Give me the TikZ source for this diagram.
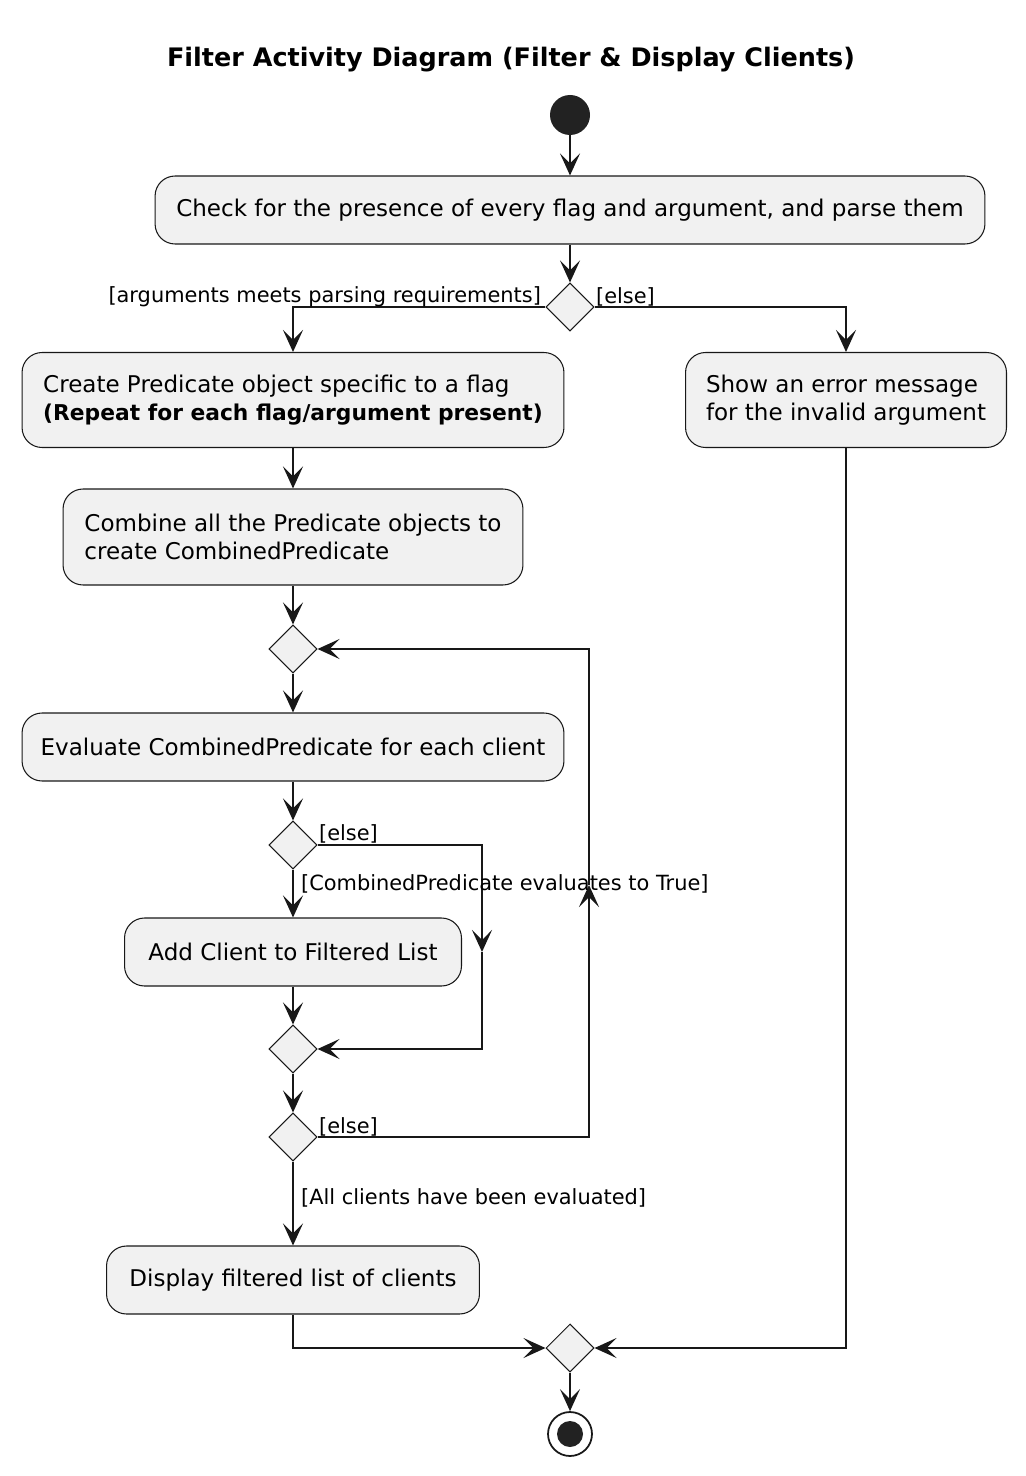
\documentclass[tikz,border=0pt]{standalone}
\usepackage{fontspec}
\setmainfont{DejaVu Sans}
\usetikzlibrary{positioning,shapes.geometric,arrows.meta,calc}
\definecolor{boxfill}{HTML}{F1F1F1}
\definecolor{ink}{HTML}{181818}
\definecolor{dot}{HTML}{222222}

\begin{document}
\begin{tikzpicture}[x=0.02cm,y=-0.02cm,
	act/.style={draw=ink,fill=boxfill,rounded corners=0.4cm,line width=0.6pt,minimum height=1.36cm,inner xsep=0.3cm,font=\fontsize{13.1}{15.9}\selectfont},
	actml/.style={act,align=left,minimum height=1.9cm},
	choice/.style={diamond,draw=ink,fill=boxfill,line width=0.6pt,inner sep=0pt,minimum width=0.96cm,minimum height=0.96cm},
	flow/.style={draw=ink,line width=1pt,-{Stealth[length=0.44cm,width=0.4cm,inset=0.2cm]}},
	guard/.style={font=\fontsize{11.9}{14}\selectfont,inner sep=1pt}]
			\useasboundingbox (0,0) rectangle (1026,1476);
			\node[font=\bfseries\fontsize{14.5}{17}\selectfont] (title) at (511,60) {Filter Activity Diagram (Filter \& Display Clients)};
			
			% start and first action
			\node[circle,fill=dot,minimum size=0.8cm,inner sep=0pt] (start) at (570,115) {};
			\node[act,minimum width=16.6cm] (check) at (570,210) {Check for the presence of every flag and argument, and parse them};
			\node[choice] (d1) at (570,307) {};
			
			% the two branches
			\node[actml,minimum width=10.84cm] (create) at (293,400) {Create Predicate object specific to a flag\\{\bfseries\fontsize{12.4}{15.9}\selectfont (Repeat for each flag/argument present)}};
			\node[actml,minimum width=6.42cm] (error) at (846,400) {Show an error message\\for the invalid argument};
			\node[actml,minimum width=9.2cm,minimum height=1.92cm] (combine) at (293,537) {Combine all the Predicate objects to\\create CombinedPredicate};
			
			% loop over clients
			\node[choice] (d2) at (293,649) {};
			\node[act,minimum width=10.84cm] (evaluate) at (293,747) {Evaluate CombinedPredicate for each client};
			\node[choice] (d3) at (293,845) {};
			\node[act,minimum width=6.74cm] (add) at (293,952) {Add Client to Filtered List};
			\node[choice] (d4) at (293,1049) {};
			\node[choice] (d5) at (293,1137) {};
			\node[act,minimum width=7.46cm] (display) at (293,1280) {Display filtered list of clients};
			
			% merge and end
			\node[choice] (d6) at (570,1348) {};
			\node[circle,draw=ink,line width=1pt,fill=white,minimum size=0.88cm,inner sep=0pt] (stop) at (570,1434) {};
			\fill[dot] (stop.center) circle (0.26cm);
			
			\coordinate (skipTip) at (482,952);
			\coordinate (loopTip) at (589,885);
			
			\begin{scope}[flow]
			\draw (start) -- (check);
			\draw (check) -- (d1);
			\draw (d1.west) -| (create.north);
			\draw (d1.east) -| (error.north);
			\draw (create) -- (combine);
			\draw (combine) -- (d2);
			\draw (d2) -- (evaluate);
			\draw (evaluate) -- (d3);
			\draw (d3) -- (add);
			\draw (d3.east) -| (skipTip);
			\draw (skipTip) |- (d4.east);
			\draw (add) -- (d4);
			\draw (d4) -- (d5);
			\draw (d5.east) -| (loopTip);
			\draw (loopTip) |- (d2.east);
			\draw (d5) -- (display);
			\draw (display.south) |- (d6.west);
			\draw (error.south) |- (d6.east);
			\draw (d6) -- (stop);
			\end{scope}
			
			% guards
			\node[guard,anchor=east] (gArgs) at (543,297) {[arguments meets parsing requirements]};
			\node[guard,anchor=west] (gElse1) at (594,297) {[else]};
			\node[guard,anchor=west] (gElse2) at (317,834) {[else]};
			\node[guard,anchor=west] (gTrue) at (299,884) {[CombinedPredicate evaluates to True]};
			\node[guard,anchor=west] (gElse3) at (317,1127) {[else]};
			\node[guard,anchor=west] (gAll) at (299,1198) {[All clients have been evaluated]};
\end{tikzpicture}
\end{document}
